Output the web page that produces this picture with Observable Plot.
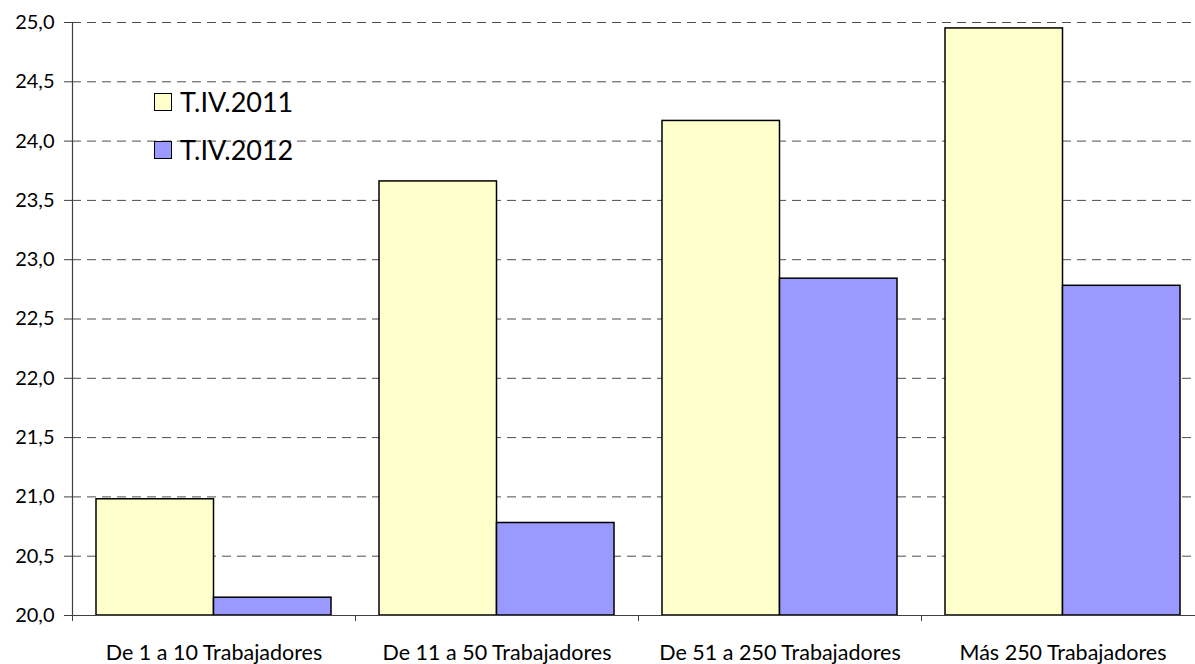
<!DOCTYPE html>
<html><head><meta charset="utf-8">
<script src="https://cdn.jsdelivr.net/npm/d3@7"></script>
<script src="https://cdn.jsdelivr.net/npm/@observablehq/plot@0.6"></script>
<style>
body{margin:0;background:#fff;}
#wrap{position:relative;width:1195px;height:664px;overflow:hidden;}
.legend{position:absolute;left:154px;font-family:Lato, sans-serif;font-size:27px;display:flex;align-items:center;color:#000;line-height:1;}
.sw{width:16px;height:16px;border:1.5px solid #000;margin-right:8px;box-sizing:content-box;}
</style></head><body><div id="wrap"></div>
<script>
const categories = ["De 1 a 10 Trabajadores", "De 11 a 50 Trabajadores", "De 51 a 250 Trabajadores", "Más 250 Trabajadores"];
const series = ["T.IV.2011", "T.IV.2012"];
const values2011 = [20.98, 23.66, 24.17, 24.95];
const values2012 = [20.15, 20.78, 22.84, 22.78];
const yTicks = [20.0, 20.5, 21.0, 21.5, 22.0, 22.5, 23.0, 23.5, 24.0, 24.5, 25.0];
const colors = ["#FFFFCC", "#9999FF"];

const rows2011 = categories.map((c, i) => ({cat: c, series: series[0], value: values2011[i]}));
const rows2012 = categories.map((c, i) => ({cat: c, series: series[1], value: values2012[i]}));
const yMin = yTicks[0];
const yMax = yTicks[yTicks.length - 1];

const W = 1195, H = 664, mL = 72, mT = 22, mB = 49;
const xEnd = 1204;
const step = (xEnd - mL) / categories.length;
const gap = 24;
const half = step / 2;
const fmt = d => d.toFixed(1).replace(".", ",");

const chart = Plot.plot({
  width: W, height: H,
  marginLeft: mL, marginRight: 0, marginTop: mT, marginBottom: mB,
  style: {fontFamily: "Lato, sans-serif", color: "#000", background: "#fff"},
  x: {domain: categories, range: [mL, xEnd], padding: 0, axis: null},
  y: {domain: [yMin, yMax], axis: null},
  marks: [
    Plot.ruleY(yTicks.slice(1), {stroke: "#4d4d4d", strokeWidth: 1, strokeDasharray: "9,6"}),
    Plot.barY(rows2011, {x: "cat", y1: yMin, y2: "value", fill: colors[0], stroke: "#000", strokeWidth: 1.5, insetLeft: gap, insetRight: half}),
    Plot.barY(rows2012, {x: "cat", y1: yMin, y2: "value", fill: colors[1], stroke: "#000", strokeWidth: 1.5, insetLeft: half, insetRight: gap}),
    Plot.ruleY([yMin], {stroke: "#404040", strokeWidth: 1.2}),
    Plot.frame({anchor: "left", stroke: "#404040", strokeWidth: 1.2}),
    Plot.axisY({ticks: yTicks, tickFormat: fmt, tickSize: 8, tickPadding: 10, fontSize: 20, label: null, stroke: "#404040"}),
    Plot.axisX({tickSize: 6, tickFormat: () => "", dx: -half, label: null, stroke: "#404040"}),
    Plot.axisX({tickSize: 0, tickPadding: 29, fontSize: 21.5, label: null})
  ]
});
const wrap = document.getElementById("wrap");
wrap.appendChild(chart);
series.forEach((s, i) => {
  const d = document.createElement("div");
  d.className = "legend";
  d.style.top = (88 + i * 48) + "px";
  d.innerHTML = `<span class="sw" style="background:${colors[i]}"></span><span>${s}</span>`;
  wrap.appendChild(d);
});
</script></body></html>
